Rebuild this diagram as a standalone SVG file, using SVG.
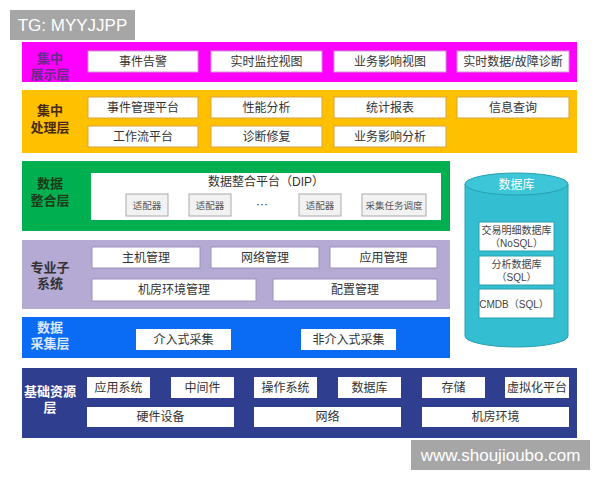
<svg xmlns="http://www.w3.org/2000/svg" width="600" height="480" viewBox="0 0 600 480">
<style>
text{font-family:"Liberation Sans","Noto Sans CJK SC",sans-serif;text-anchor:middle;dominant-baseline:central}
.bt{font-size:12px;fill:#333}
.lb{font-size:13px;font-weight:bold}
.sm{font-size:9.5px;fill:#555}
.wm{font-size:17px;fill:#fff}
.bx{fill:#fff}
.mg .bx{stroke:#d890d8;stroke-width:1}
.or .bx{stroke:#d9a33a;stroke-width:1}
.pu .bx{stroke:#9a92bc;stroke-width:1}
.sb{fill:#f2f2f2;stroke:#aaa;stroke-width:1}
.db{fill:#fff;stroke:#2a9fb0;stroke-width:1}
.dt{font-size:10px;fill:#444}
</style>
<rect width="600" height="480" fill="#fff"/>

<g id="layer-display" class="mg">
<rect x="22" y="42" width="555" height="40" fill="#FF00FF"/>
<text class="lb" x="50" y="58" fill="#6a2a8a">集中</text>
<text class="lb" x="50" y="74" fill="#6a2a8a">展示层</text>
<rect class="bx" x="88" y="51" width="110" height="21"/><text class="bt" x="143" y="61.5">事件告警</text>
<rect class="bx" x="211" y="51" width="111" height="21"/><text class="bt" x="266.5" y="61.5">实时监控视图</text>
<rect class="bx" x="334" y="51" width="112" height="21"/><text class="bt" x="390" y="61.5">业务影响视图</text>
<rect class="bx" x="457" y="51" width="112" height="21"/><text class="bt" x="513" y="61.5">实时数据/故障诊断</text>
</g>

<g id="layer-processing" class="or">
<rect x="22" y="90" width="555" height="63" fill="#FFC000"/>
<text class="lb" x="50" y="110" fill="#4a2a10">集中</text>
<text class="lb" x="50" y="127" fill="#4a2a10">处理层</text>
<rect class="bx" x="88" y="97" width="110" height="21"/><text class="bt" x="143" y="107.5">事件管理平台</text>
<rect class="bx" x="211" y="97" width="111" height="21"/><text class="bt" x="266.5" y="107.5">性能分析</text>
<rect class="bx" x="334" y="97" width="112" height="21"/><text class="bt" x="390" y="107.5">统计报表</text>
<rect class="bx" x="457" y="97" width="112" height="21"/><text class="bt" x="513" y="107.5">信息查询</text>
<rect class="bx" x="88" y="126" width="110" height="21"/><text class="bt" x="143" y="136.5">工作流平台</text>
<rect class="bx" x="211" y="126" width="111" height="21"/><text class="bt" x="266.5" y="136.5">诊断修复</text>
<rect class="bx" x="334" y="126" width="112" height="21"/><text class="bt" x="390" y="136.5">业务影响分析</text>
</g>

<g id="layer-integration">
<rect x="22" y="161" width="428" height="70" fill="#00B050"/>
<text class="lb" x="50" y="183" fill="#1a3a1a">数据</text>
<text class="lb" x="50" y="200" fill="#1a3a1a">整合层</text>
<rect x="91" y="173" width="350" height="47" fill="#fff"/>
<text class="bt" x="266" y="182">数据整合平台（DIP）</text>
<rect class="sb" x="126" y="194" width="42" height="22"/><text class="sm" x="147" y="205">适配器</text>
<rect class="sb" x="189" y="194" width="42" height="22"/><text class="sm" x="210" y="205">适配器</text>
<text class="bt" x="262" y="204">···</text>
<rect class="sb" x="299" y="194" width="42" height="22"/><text class="sm" x="320" y="205">适配器</text>
<rect class="sb" x="362" y="194" width="64" height="22"/><text class="sm" x="394" y="205">采集任务调度</text>
</g>

<g id="layer-subsystems" class="pu">
<rect x="22" y="240" width="428" height="69" fill="#B4AAD4"/>
<text class="lb" x="50" y="267" fill="#333">专业子</text>
<text class="lb" x="50" y="283" fill="#333">系统</text>
<rect class="bx" x="92" y="247" width="108" height="21"/><text class="bt" x="146" y="257.5">主机管理</text>
<rect class="bx" x="211" y="247" width="108" height="21"/><text class="bt" x="265" y="257.5">网络管理</text>
<rect class="bx" x="330" y="247" width="107" height="21"/><text class="bt" x="383.5" y="257.5">应用管理</text>
<rect class="bx" x="92" y="279" width="164" height="22"/><text class="bt" x="174" y="290">机房环境管理</text>
<rect class="bx" x="273" y="279" width="164" height="22"/><text class="bt" x="355" y="290">配置管理</text>
</g>

<g id="layer-collection">
<rect x="22" y="317" width="428" height="41" fill="#0A6CF5"/>
<text class="lb" x="50" y="327" fill="#dde8ff">数据</text>
<text class="lb" x="50" y="343" fill="#dde8ff">采集层</text>
<rect class="bx" x="136" y="329" width="95" height="21"/><text class="bt" x="183.5" y="339.5">介入式采集</text>
<rect class="bx" x="301" y="329" width="95" height="21"/><text class="bt" x="348.5" y="339.5">非介入式采集</text>
</g>

<g id="layer-infrastructure">
<rect x="22" y="368" width="555" height="70" fill="#2F3E8E"/>
<text class="lb" x="50" y="391" fill="#fff">基础资源</text>
<text class="lb" x="50" y="407" fill="#fff">层</text>
<rect class="bx" x="87" y="377" width="63" height="21"/><text class="bt" x="118.5" y="387.5">应用系统</text>
<rect class="bx" x="171" y="377" width="63" height="21"/><text class="bt" x="202.5" y="387.5">中间件</text>
<rect class="bx" x="254" y="377" width="63" height="21"/><text class="bt" x="285.5" y="387.5">操作系统</text>
<rect class="bx" x="338" y="377" width="63" height="21"/><text class="bt" x="369.5" y="387.5">数据库</text>
<rect class="bx" x="422" y="377" width="63" height="21"/><text class="bt" x="453.5" y="387.5">存储</text>
<rect class="bx" x="505" y="377" width="64" height="21"/><text class="bt" x="537" y="387.5">虚拟化平台</text>
<rect class="bx" x="87" y="407" width="147" height="20"/><text class="bt" x="160.5" y="417">硬件设备</text>
<rect class="bx" x="254" y="407" width="147" height="20"/><text class="bt" x="327.5" y="417">网络</text>
<rect class="bx" x="422" y="407" width="147" height="20"/><text class="bt" x="495.5" y="417">机房环境</text>
</g>

<g id="database">
<path d="M465,184 L465,336 A51.5,11 0 0 0 568,336 L568,184" fill="#33BFD1" stroke="#2a9fb0" stroke-width="1"/>
<ellipse cx="516.5" cy="184" rx="51.5" ry="11" fill="#3cc6d8" stroke="#2a9fb0" stroke-width="1"/>
<text class="lb" x="516.5" y="185" fill="#fff" style="font-weight:normal;font-size:12px">数据库</text>
<rect class="db" x="479" y="222" width="75" height="29"/>
<text class="dt" x="516.5" y="230">交易明细数据库</text>
<text class="dt" x="516.5" y="243">（NoSQL）</text>
<rect class="db" x="479" y="256" width="75" height="29"/>
<text class="dt" x="516.5" y="264">分析数据库</text>
<text class="dt" x="516.5" y="277">（SQL）</text>
<rect class="db" x="479" y="289" width="75" height="29"/>
<text class="dt" x="514" y="304">CMDB（SQL）</text>
</g>

<g id="watermark-top">
<rect x="10" y="10" width="125" height="30" fill="#a6a6a6"/>
<text class="wm" x="72.5" y="25">TG: MYYJJPP</text>
</g>
<g id="watermark-bottom">
<rect x="411" y="440" width="179" height="30" fill="#a6a6a6"/>
<text class="wm" x="500.5" y="455">www.shoujioubo.com</text>
</g>
</svg>
